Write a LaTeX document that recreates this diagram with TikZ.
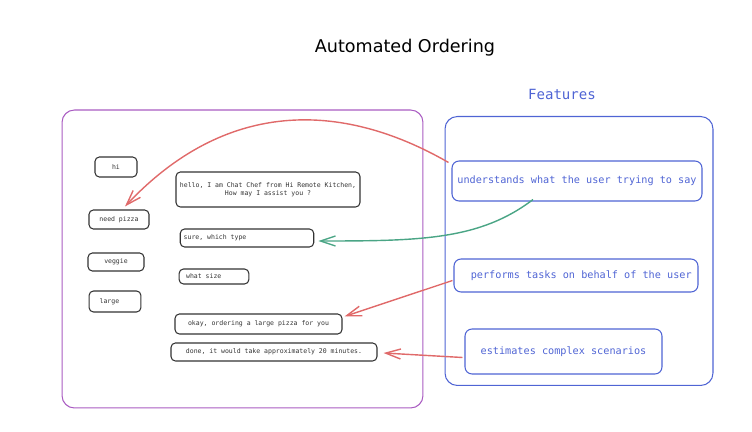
\documentclass[tikz,border=0pt]{standalone}
\usepackage{fontspec}
\setmainfont{DejaVu Sans}
\setmonofont{DejaVu Sans Mono}
\usepackage{tikz}
\usetikzlibrary{positioning,arrows.meta,calc}
\definecolor{chatpurple}{HTML}{A95CC2}
\definecolor{featblue}{HTML}{4F64D4}
\definecolor{linkred}{HTML}{E06A6A}
\definecolor{linkgreen}{HTML}{4AA585}
\definecolor{boxgray}{HTML}{333333}
\tikzset{
    chat/.style = {
        draw=boxgray,
        shape=rectangle,
        rounded corners=2.5pt,
        line width=0.6pt,
        inner xsep=2pt,
        inner ysep=1pt,
        align=center,
        text=boxgray,
        font=\ttfamily\fontsize{3.7}{4.8}\selectfont
    },
    feature/.style = {
        draw=featblue,
        shape=rectangle,
        rounded corners=4pt,
        line width=0.6pt,
        inner xsep=1pt,
        text=featblue,
        font=\ttfamily\fontsize{5.8}{7}\selectfont
    },
    frame/.style = {
        draw,
        shape=rectangle,
        rounded corners=7pt,
        line width=0.6pt
    },
    link/.style = {
        line width=0.8pt,
        -{Straight Barb[length=3mm,width=2mm]}
    },
}
\begin{document}
\begin{tikzpicture}[x={(0.02cm,0)}, y={(0,-0.02cm)}]
            \useasboundingbox (0,0) rectangle (752,432);

            \node[font=\fontsize{10}{12}\selectfont] (title) at (405,48) {Automated Ordering};
            \node[text=featblue, font=\ttfamily\fontsize{8}{10}\selectfont] (featlabel) at (562,94) {Features};

            % frames
            \node[frame, draw=chatpurple, minimum width=72.2mm, minimum height=59.6mm] (chatframe) at (242.5,259) {};
            \node[frame, draw=featblue, minimum width=53.6mm, minimum height=53.8mm] (featframe) at (579,251) {};

            % conversation
            \node[chat, minimum width=8.4mm,  minimum height=4mm]   (hi)        at (116,167)   {hi};
            \node[chat, minimum width=36.8mm, minimum height=7mm]   (hello)     at (268,189.5) {hello, I am Chat Chef from Hi Remote Kitchen,\\How may I assist you ?};
            \node[chat, minimum width=12mm,   minimum height=3.8mm] (needpizza) at (119,219.5) {need pizza};
            \node[chat, minimum height=3.6mm] (whichtype) at (247,238) {\makebox[72pt][l]{sure, which type}};
            \node[chat, minimum width=11.2mm, minimum height=3.6mm] (veggie)    at (116,262)   {veggie};
            \node[chat, minimum height=3mm]   (whatsize)  at (214,276.5) {\makebox[35.7pt][l]{\hspace{2pt}what size}};
            \node[chat, minimum height=4.2mm] (large)     at (115,301.5) {\makebox[25.5pt][l]{\hspace{4pt}large}};
            \node[chat, minimum width=33.4mm, minimum height=4mm]   (okay)      at (258.5,324) {okay, ordering a large pizza for you};
            \node[chat, minimum width=41.2mm, minimum height=3.6mm] (done)      at (274,352)   {done, it would take approximately 20 minutes.};

            % features
            \node[feature, minimum width=50mm,   minimum height=8mm]   (understands) at (577,181)   {understands what the user trying to say};
            \node[feature, minimum width=48.8mm, minimum height=6.6mm] (performs)    at (576,275.5) {\hspace{6pt}performs tasks on behalf of the user};
            \node[feature, minimum width=39.4mm, minimum height=9mm]   (estimates)   at (563.5,351.5) {estimates complex scenarios};

            \draw[link, color=linkred] ($(understands.north west)+(-3,2)$) .. controls (340,100) and (225,100) .. ($(needpizza.north)+(6,-3)$);
            \draw[link, color=linkgreen] ($(understands.south)+(-44,-2)$) .. controls (480,240) and (420,241) .. ($(whichtype.east)+(4,3)$);
            \draw[link, color=linkred] ($(performs.west)+(-1,5)$) -- ($(okay.north east)+(2,3)$);
            \draw[link, color=linkred] ($(estimates.west)+(-2,6)$) -- ($(done.east)+(6,1)$);
        \end{tikzpicture}
\end{document}
